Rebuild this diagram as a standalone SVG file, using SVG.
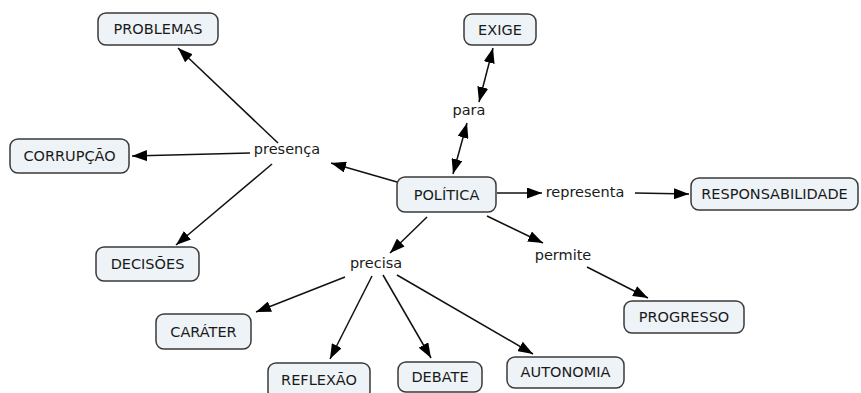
<svg xmlns="http://www.w3.org/2000/svg" width="861" height="393" viewBox="0 0 861 393">
<style>
.box{fill:#eef3f7;stroke:#3a3a3a;stroke-width:1.5}
.t{font-family:"DejaVu Sans",Verdana,sans-serif;font-size:14.5px;fill:#1a1a1a;text-anchor:middle}
.c{stroke:#111;stroke-width:1.5;fill:none}
</style>
<defs>
<marker id="ah" viewBox="0 0 15 11" refX="15" refY="5.5" markerWidth="15" markerHeight="11" markerUnits="userSpaceOnUse" orient="auto-start-reverse">
<path d="M0,0 L15,5.5 L0,11 Z" fill="#000"/>
</marker>
</defs>
<rect width="861" height="393" fill="#fff"/>
<g id="connectors">
<path class="c" d="M397,182 L331,163" marker-end="url(#ah)"/>
<path class="c" d="M278,143 L178,48" marker-end="url(#ah)"/>
<path class="c" d="M250,153 L132,156" marker-end="url(#ah)"/>
<path class="c" d="M272,164 L176,245" marker-end="url(#ah)"/>
<path class="c" d="M479,102 L493,48" marker-start="url(#ah)" marker-end="url(#ah)"/>
<path class="c" d="M453,174 L467,123" marker-start="url(#ah)" marker-end="url(#ah)"/>
<path class="c" d="M497,193 L542,193" marker-end="url(#ah)"/>
<path class="c" d="M635,193 L689,194" marker-end="url(#ah)"/>
<path class="c" d="M487,216 L543,243" marker-end="url(#ah)"/>
<path class="c" d="M587,267 L648,298" marker-end="url(#ah)"/>
<path class="c" d="M427,217 L390,253" marker-end="url(#ah)"/>
<path class="c" d="M345,277 L256,312" marker-end="url(#ah)"/>
<path class="c" d="M372,276 L330,359" marker-end="url(#ah)"/>
<path class="c" d="M383,275 L431,358" marker-end="url(#ah)"/>
<path class="c" d="M397,275 L533,354" marker-end="url(#ah)"/>
</g>
<g id="lbl-presenca"><text class="t" x="287" y="154">presença</text></g>
<g id="lbl-para"><text class="t" x="469" y="115">para</text></g>
<g id="lbl-representa"><text class="t" x="585" y="197">representa</text></g>
<g id="lbl-permite"><text class="t" x="563" y="260">permite</text></g>
<g id="lbl-precisa"><text class="t" x="376" y="268">precisa</text></g>
<g id="n-problemas"><rect class="box" x="98" y="13" width="120" height="32" rx="8"/><text class="t" x="158" y="34">PROBLEMAS</text></g>
<g id="n-exige"><rect class="box" x="464" y="14" width="72" height="31" rx="8"/><text class="t" x="500" y="35">EXIGE</text></g>
<g id="n-corrupcao"><rect class="box" x="10" y="139" width="119" height="34" rx="8"/><text class="t" x="69.5" y="161">CORRUPÇÃO</text></g>
<g id="n-politica"><rect class="box" x="397" y="177" width="99" height="35" rx="8"/><text class="t" x="446.5" y="200">POLÍTICA</text></g>
<g id="n-responsabilidade"><rect class="box" x="691" y="178" width="167" height="32" rx="8"/><text class="t" x="774.5" y="199">RESPONSABILIDADE</text></g>
<g id="n-decisoes"><rect class="box" x="96" y="247" width="103" height="34" rx="8"/><text class="t" x="147.5" y="269">DECISÕES</text></g>
<g id="n-carater"><rect class="box" x="156" y="314" width="95" height="35" rx="8"/><text class="t" x="203.5" y="337">CARÁTER</text></g>
<g id="n-progresso"><rect class="box" x="624" y="301" width="120" height="32" rx="8"/><text class="t" x="684" y="322">PROGRESSO</text></g>
<g id="n-reflexao"><rect class="box" x="268" y="363" width="102" height="36" rx="8"/><text class="t" x="319" y="385">REFLEXÃO</text></g>
<g id="n-debate"><rect class="box" x="398" y="362" width="84" height="30" rx="8"/><text class="t" x="440" y="382">DEBATE</text></g>
<g id="n-autonomia"><rect class="box" x="507" y="357" width="117" height="31" rx="8"/><text class="t" x="565.5" y="377">AUTONOMIA</text></g>
</svg>
